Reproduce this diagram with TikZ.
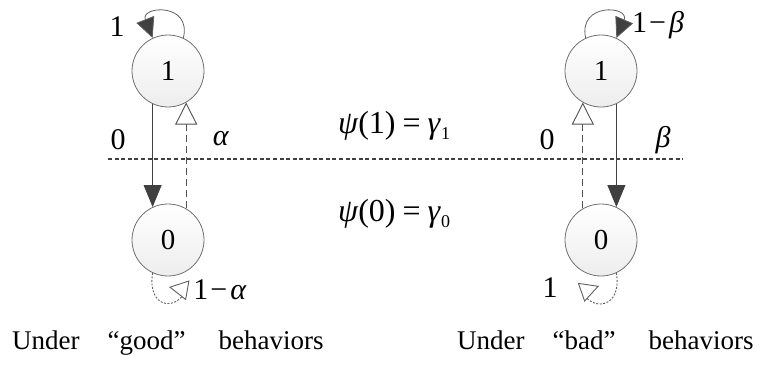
\documentclass[tikz,border=0pt]{standalone}
\usepackage{fontspec}
\setmainfont{Liberation Serif}
\usetikzlibrary{arrows.meta}
\definecolor{linegray}{HTML}{404040}
\definecolor{loopgray}{HTML}{606060}
\definecolor{circgray}{HTML}{707070}
\tikzset{
  state/.style={circle, draw=circgray, line width=0.8pt, minimum size=72pt, inner sep=0pt,
    top color=white, bottom color=black!7, font=\fontsize{29}{29}\selectfont},
  lbl/.style={font=\fontsize{30}{30}\selectfont, inner sep=0pt},
  mathlbl/.style={font=\fontsize{32}{32}\selectfont, inner sep=0pt},
  caption/.style={font=\fontsize{27}{27}\selectfont, inner sep=0pt, anchor=base west},
  solidarrow/.style={draw=linegray, line width=0.9pt, -{Triangle[length=22pt,width=18pt,fill=linegray]}},
  dasharrow/.style={draw=linegray!90, line width=0.9pt, dash pattern=on 7pt off 4pt,
    -{Triangle[open,length=22pt,width=22pt,fill=white]}},
  toploop/.style={draw=loopgray, line width=0.8pt, -{Triangle[length=20pt,width=19pt,fill=linegray]}},
  botloop/.style={draw=loopgray, line width=0.9pt, dash pattern=on 2pt off 1.5pt},
  bothead/.style={draw=loopgray, line width=0.9pt, -{Triangle[open,length=19pt,width=20pt,fill=white]}},
  divider/.style={draw=linegray, line width=2.4pt, dash pattern=on 4pt off 2.6pt}
}
\begin{document}
\begin{tikzpicture}[x=1pt,y=-1pt]
\path[use as bounding box] (0,0) rectangle (762,367);
% states
\node[state] (g1) at (168,71) {1};
\node[state] (g0) at (168,240) {0};
\node[state] (b1) at (601,71) {1};
\node[state] (b0) at (601,240) {0};
% divider
\coordinate (dl) at (108,159);
\coordinate (dr) at (683,159);
\draw[divider] (dl) -- (dr);
% good side
\draw[solidarrow] (g1.245) -- (g0.115);
\draw[dasharrow] (g0.60) -- (g1.300);
\draw[toploop] (g1.65) .. controls (192,2) and (140,6) .. (g1.115);
\coordinate (gh) at (186,290);
\coordinate (gt) at (169,287);
\draw[botloop] (g0.245) .. controls (147,308) and (176,312) .. (gh);
\draw[bothead] (gh) -- (gt);
% bad side
\draw[solidarrow] (b1.295) -- (b0.65);
\draw[dasharrow] (b0.120) -- (b1.240);
\draw[toploop] (b1.115) .. controls (578,2) and (630,6) .. (b1.65);
\coordinate (bh) at (582,292);
\coordinate (bt) at (599,286);
\draw[botloop] (b0.295) .. controls (622,308) and (593,312) .. (bh);
\draw[bothead] (bh) -- (bt);
% labels
\node[lbl] (l1) at (117,27) {1};
\node[lbl] (l2) at (118,140) {0};
\node[lbl] (l3) at (221,139) {\textit{α}};
\node[lbl] (l4) at (220,290) {1\kern2pt−\kern3pt\textit{α}};
\node[lbl] (r1) at (658,25) {1\kern2pt−\kern3pt\textit{β}};
\node[lbl] (r2) at (547,140) {0};
\node[lbl] (r3) at (663,140) {\textit{β}};
\node[lbl] (r4) at (550,288) {1};
\node[mathlbl] (m1) at (394,126) {\textit{ψ}(1)\kern7pt=\kern7pt\textit{γ}\raisebox{-6pt}{\fontsize{18}{18}\selectfont 1}};
\node[mathlbl] (m0) at (394,214) {\textit{ψ}(0)\kern7pt=\kern7pt\textit{γ}\raisebox{-6pt}{\fontsize{18}{18}\selectfont 0}};
% captions
\node[caption] (cg) at (12,349) {Under\hspace{28pt}“good”\hspace{33pt}behaviors};
\node[caption] (cb) at (457,349) {Under\hspace{28pt}“bad”\hspace{33pt}behaviors};
\end{tikzpicture}
\end{document}
